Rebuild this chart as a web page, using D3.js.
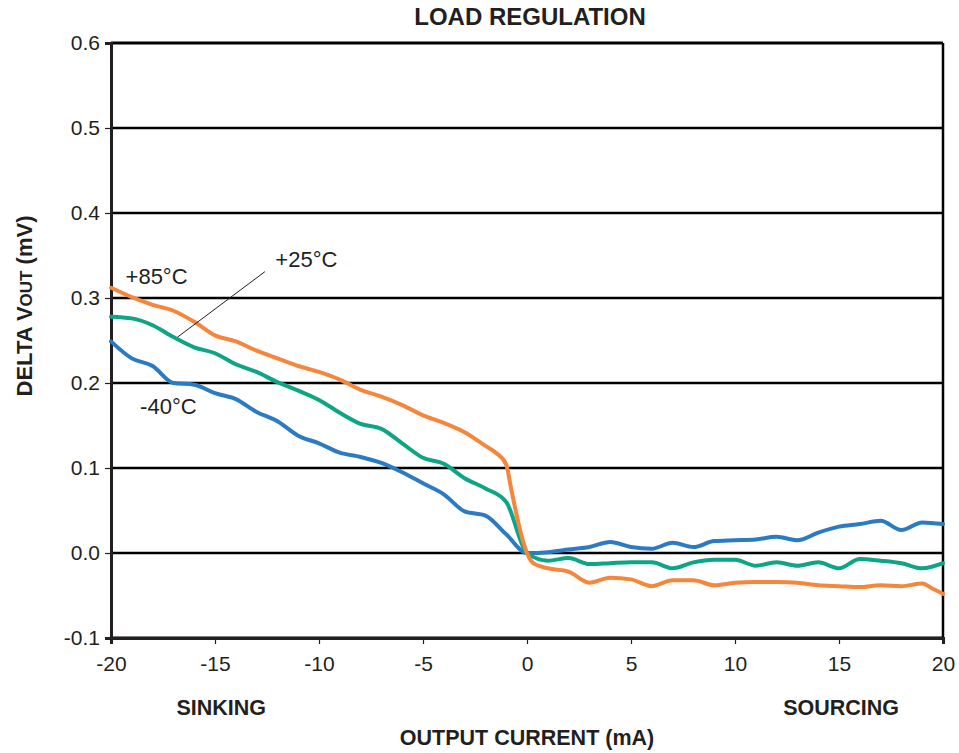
<!DOCTYPE html>
<html>
<head>
<meta charset="utf-8">
<script src="https://cdn.jsdelivr.net/npm/d3@7"></script>
<style>
  body { margin: 0; background: #fff; }
  text { font-family: "Liberation Sans", Arial, sans-serif; fill: #231f20; }
</style>
</head>
<body>
<svg width="959" height="753"></svg>
<script>
// Data
const current = [-20, -19, -18, -17, -16, -15, -14, -13, -12, -11, -10, -9, -8, -7, -6, -5, -4, -3, -2, -1,
  0, 1, 2, 3, 4, 5, 6, 7, 8, 9, 10, 11, 12, 13, 14, 15, 16, 17, 18, 19, 20];

const minus40 = [0.249, 0.229, 0.220, 0.200, 0.198, 0.188, 0.181, 0.166, 0.155, 0.138, 0.129, 0.118, 0.113, 0.106, 0.095, 0.082, 0.069, 0.049, 0.044, 0.022,
  0.000, 0.001, 0.004, 0.007, 0.013, 0.007, 0.005, 0.012, 0.007, 0.014, 0.015, 0.016, 0.019, 0.015, 0.024, 0.031, 0.034, 0.038, 0.027, 0.036, 0.034];

const plus25 = [0.278, 0.276, 0.268, 0.254, 0.242, 0.235, 0.222, 0.213, 0.201, 0.191, 0.180, 0.165, 0.152, 0.146, 0.129, 0.112, 0.105, 0.088, 0.076, 0.060,
  0.000, -0.009, -0.006, -0.013, -0.012, -0.011, -0.011, -0.018, -0.011, -0.008, -0.008, -0.015, -0.011, -0.015, -0.011, -0.018, -0.007, -0.009, -0.012, -0.018, -0.012];

// +85C has a steep step just below 0 mA, so it gets a few extra points
const current85 = [-20, -19, -18, -17, -16, -15, -14, -13, -12, -11, -10, -9, -8, -7, -6, -5, -4, -3, -2, -1.5, -1, -0.75, -0.5, -0.25,
  0, 0.3, 1, 2, 3, 4, 5, 6, 7, 8, 9, 10, 11, 12, 13, 14, 15, 16, 17, 18, 19, 19.5, 20];
const plus85 = [0.312, 0.301, 0.292, 0.285, 0.272, 0.256, 0.249, 0.238, 0.229, 0.220, 0.213, 0.204, 0.192, 0.184, 0.174, 0.162, 0.153, 0.142, 0.126, 0.118, 0.104, 0.074, 0.045, 0.019,
  0.000, -0.012, -0.018, -0.022, -0.035, -0.029, -0.031, -0.039, -0.032, -0.032, -0.038, -0.035, -0.034, -0.034, -0.035, -0.038, -0.039, -0.040, -0.038, -0.039, -0.036, -0.042, -0.048];

const xTicks = [-20, -15, -10, -5, 0, 5, 10, 15, 20];
const yTicks = [-0.1, 0.0, 0.1, 0.2, 0.3, 0.4, 0.5, 0.6];

const series = [
  { name: "-40°C", xs: current, ys: minus40, color: "#2a7bc4", label: [-18.6, 0.164] },
  { name: "+25°C", xs: current, ys: plus25, color: "#0ea585", label: [-12.1, 0.336] },
  { name: "+85°C", xs: current85, ys: plus85, color: "#f4873b", label: [-19.3, 0.316] }
];

const svg = d3.select("svg");
const margin = { top: 43, right: 16, bottom: 115, left: 111 };
const width = 959, height = 753;

const x = d3.scaleLinear().domain([-20, 20]).range([margin.left, width - margin.right]);
const y = d3.scaleLinear().domain([-0.1, 0.6]).range([height - margin.bottom, margin.top]);

// Horizontal grid lines
svg.append("g")
  .selectAll("line")
  .data(yTicks)
  .join("line")
  .attr("x1", x(-20))
  .attr("x2", x(20))
  .attr("y1", d => y(d))
  .attr("y2", d => y(d))
  .attr("stroke", "#000")
  .attr("stroke-width", d => (d === 0.6 || d === -0.1) ? 3 : 2.4);

// Right border
svg.append("line")
  .attr("x1", x(20)).attr("x2", x(20))
  .attr("y1", y(0.6)).attr("y2", y(-0.1))
  .attr("stroke", "#000").attr("stroke-width", 2.5);

// Y axis
const yAxis = svg.append("g")
  .attr("transform", `translate(${x(-20)},0)`)
  .call(d3.axisLeft(y).tickValues(yTicks).tickSize(6).tickPadding(5));
yAxis.select(".domain").attr("stroke", "#231f20").attr("stroke-width", 3);
yAxis.selectAll(".tick line").attr("stroke", "#231f20").attr("stroke-width", 1.2);
yAxis.selectAll("text").style("font-size", "21px").attr("fill", "#231f20")
  .text(d => d3.format(".1f")(d).replace("−", "-"));

// X axis
const xAxis = svg.append("g")
  .attr("transform", `translate(0,${y(-0.1)})`)
  .call(d3.axisBottom(x).tickValues(xTicks).tickSize(6).tickPadding(12));
xAxis.select(".domain").attr("stroke", "#231f20").attr("stroke-width", 3);
xAxis.selectAll(".tick line").attr("stroke", "#231f20").attr("stroke-width", 1.2);
xAxis.selectAll("text").style("font-size", "21px").attr("fill", "#231f20")
  .text(d => String(d));

// Curves
const line = d3.line()
  .x(d => x(d[0]))
  .y(d => y(d[1]))
  .curve(d3.curveMonotoneX);

svg.append("g")
  .selectAll("path")
  .data(series)
  .join("path")
  .attr("d", d => line(d.xs.map((v, i) => [v, d.ys[i]])))
  .attr("fill", "none")
  .attr("stroke", d => d.color)
  .attr("stroke-width", 4)
  .attr("stroke-linejoin", "round")
  .attr("stroke-linecap", "round");

// Curve labels
svg.append("g")
  .selectAll("text")
  .data(series)
  .join("text")
  .attr("x", d => x(d.label[0]))
  .attr("y", d => y(d.label[1]))
  .text(d => d.name)
  .style("font-size", "22px");

// Leader line for +25C
svg.append("line")
  .attr("x1", x(-12.6)).attr("y1", y(0.331))
  .attr("x2", x(-16.8)).attr("y2", y(0.254))
  .attr("stroke", "#231f20").attr("stroke-width", 1);

// Title and axis labels
svg.append("text")
  .attr("x", 530).attr("y", 25)
  .attr("text-anchor", "middle")
  .style("font-size", "24px").style("font-weight", "bold")
  .text("LOAD REGULATION");

const yLabel = svg.append("text")
  .attr("transform", `translate(32,306) rotate(-90)`)
  .attr("text-anchor", "middle")
  .style("font-size", "22px").style("font-weight", "bold");
yLabel.append("tspan").text("DELTA V");
yLabel.append("tspan").style("font-size", "17px").text("OUT");
yLabel.append("tspan").text(" (mV)");

svg.append("text")
  .attr("x", x(0)).attr("y", 745)
  .attr("text-anchor", "middle")
  .style("font-size", "21.5px").style("font-weight", "bold")
  .text("OUTPUT CURRENT (mA)");

svg.append("text")
  .attr("x", x(-14.7)).attr("y", 715)
  .attr("text-anchor", "middle")
  .style("font-size", "21.5px").style("font-weight", "bold")
  .text("SINKING");

svg.append("text")
  .attr("x", x(15.1)).attr("y", 715)
  .attr("text-anchor", "middle")
  .style("font-size", "21.5px").style("font-weight", "bold")
  .text("SOURCING");
</script>
</body>
</html>
